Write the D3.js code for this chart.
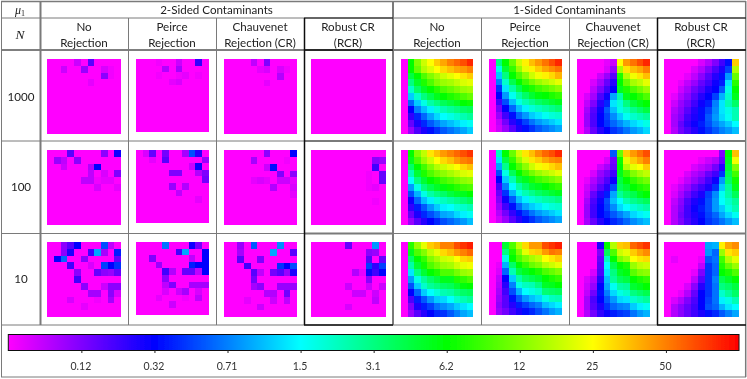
<!DOCTYPE html>
<html><head><meta charset="utf-8">
<script src="https://cdn.jsdelivr.net/npm/d3@7/dist/d3.min.js"></script>
<style>html,body{margin:0;padding:0;background:#fff}svg{display:block}</style>
</head><body><svg id="c" width="747" height="379"></svg>
<script>
// Categories and labels
const sampleSizes = ["1000","100","10"];
const methodLines = [["No","Rejection"],["Peirce","Rejection"],["Chauvenet","Rejection (CR)"],["Robust CR","(RCR)"]];
const groupTitles = ["2-Sided Contaminants","1-Sided Contaminants"];
const tickPercent = [10,20,30,40,50,60,70,80,90];
const tickLabels = ["0.12","0.32","0.71","1.5","3.1","6.2","12","25","50"];
// Cell values as percentage along the colour bar, rows top to bottom.
const two_none_1000=[[0,0,0,0,4,0,13,0,0,0,0],[0,0,4,0,0,8,0,0,3,1,0],[0,0,0,0,0,0,0,0,9,1,0],[0,0,0,0,0,0,2,0,0,0,0],[0,0,0,0,0,0,0,0,0,0,0],[0,0,0,0,0,0,0,0,0,0,0],[0,0,0,0,0,0,0,0,0,0,0],[0,0,0,0,0,0,0,0,0,0,0],[0,0,0,0,0,0,0,0,0,0,0],[0,0,0,0,0,0,0,0,0,0,0],[0,0,0,0,0,0,0,0,0,0,0]];
const two_peirce_1000=[[0,0,0,1,0,0,4,0,0,16,0],[0,0,0,0,6,0,7,0,0,0,0],[0,0,0,1,0,0,1,2,0,1,0],[0,0,0,0,0,2,3,0,0,0,0],[0,0,0,0,0,0,0,0,0,0,0],[0,0,0,0,0,0,0,0,0,0,0],[0,0,0,0,0,0,0,0,0,0,0],[0,0,0,0,0,0,0,0,0,0,0],[0,0,0,0,0,0,0,0,0,0,0],[0,0,0,0,0,0,0,0,0,0,0],[0,0,0,0,0,0,0,0,0,0,0]];
const two_chauv_1000=[[0,0,0,0,5,0,10,0,0,0,0],[0,0,0,0,0,2,3,0,3,1,0],[0,0,0,0,0,0,0,0,6,0,0],[0,0,0,0,0,0,2,0,0,0,0],[0,0,0,0,0,0,0,0,0,0,0],[0,0,0,0,0,0,0,0,0,0,0],[0,0,0,0,0,0,0,0,0,0,0],[0,0,0,0,0,0,0,0,0,0,0],[0,0,0,0,0,0,0,0,0,0,0],[0,0,0,0,0,0,0,0,0,0,0],[0,0,0,0,0,0,0,0,0,0,0]];
const two_rcr_1000=[[0,0,0,0,0,0,0,0,0,0,0],[0,0,0,0,0,0,0,0,0,0,0],[0,0,0,0,0,0,0,0,0,0,0],[0,0,0,0,0,0,0,0,0,0,0],[0,0,0,0,0,0,0,0,0,0,0],[0,0,0,0,0,0,0,0,0,0,0],[0,0,0,0,0,0,0,0,0,0,0],[0,0,0,0,0,0,0,0,0,0,0],[0,0,0,0,0,0,0,0,0,0,0],[0,0,0,0,0,0,0,0,0,0,0],[0,0,0,0,0,0,0,0,0,0,0]];
const one_none_1000=[[0,60,70,76,80,84,87,90,92,94,97],[0,60,68,74,77,80,83,85,87,88,90],[0,55,60,66,70,73,76,78,80,82,84],[0,50,57,62,66,70,72,73,75,77,78],[0,44,52,57,60,63,66,68,70,72,73],[0,36,44,50,54,58,60,62,64,66,68],[0,28,36,42,47,50,53,55,57,60,61],[0,20,30,35,39,43,46,48,50,52,53],[0,16,23,28,33,37,40,42,44,46,48],[0,12,18,23,27,30,33,35,37,39,41],[0,8,14,18,21,24,27,29,31,33,36]];
const one_peirce_1000=[[0,50,60,68,76,81,85,88,91,94,97],[0,42,56,64,72,78,81,84,87,89,91],[0,36,50,60,66,71,76,79,81,83,86],[0,30,44,54,60,65,69,72,74,76,78],[0,24,38,47,54,59,62,65,67,69,71],[0,20,32,41,47,52,56,59,60,62,64],[0,15,26,35,42,46,49,52,54,56,58],[0,11,20,28,35,39,43,45,47,49,51],[0,8,15,21,28,32,36,38,41,43,44],[0,5,11,17,21,25,29,32,34,36,38],[0,4,8,13,18,21,24,27,29,31,33]];
const one_chauv_1000=[[0,0,0,0,2,4,80,88,91,94,97],[0,0,0,0,3,8,73,82,85,87,90],[0,0,0,4,8,13,62,74,79,82,85],[0,0,3,7,12,17,60,68,73,75,78],[0,0,5,10,15,20,58,62,66,69,72],[0,3,7,14,19,33,47,58,60,63,66],[0,5,10,17,23,38,43,50,55,58,60],[0,7,13,19,27,35,42,45,49,52,55],[0,8,14,20,25,31,36,41,44,46,48],[0,8,14,20,24,28,31,34,37,39,42],[0,6,12,17,20,24,26,29,32,34,37]];
const one_rcr_1000=[[0,0,0,0,0,3,6,10,15,21,84],[0,0,0,0,3,6,10,14,18,25,74],[0,0,0,2,5,9,13,17,21,32,68],[0,0,2,5,8,12,15,19,22,38,63],[0,0,4,7,11,14,18,20,27,42,60],[0,2,6,9,13,17,20,25,34,44,58],[0,4,8,11,15,19,22,30,38,46,52],[0,6,9,13,17,21,25,31,38,42,46],[0,7,10,15,18,21,27,32,37,41,46],[0,7,12,16,19,22,26,30,33,36,40],[0,6,11,14,17,21,24,27,30,32,35]];
const two_none_100=[[0,0,0,13,0,0,0,0,9,0,19],[0,8,5,0,9,0,0,0,0,0,0],[0,0,4,0,0,0,6,20,0,0,0],[0,0,0,0,0,0,5,0,3,0,10],[0,0,0,0,0,5,5,1,2,2,0],[0,0,0,0,0,0,0,3,0,0,2],[0,0,0,0,0,0,0,0,0,0,0],[0,0,0,0,0,0,0,0,0,0,0],[0,0,0,0,0,0,0,0,0,0,0],[0,0,0,0,0,0,0,0,0,0,0],[0,0,0,0,0,0,0,0,0,0,0]];
const two_peirce_100=[[0,3,12,0,11,0,0,7,26,17,0],[0,0,2,0,13,0,0,0,0,0,8],[0,0,0,0,0,0,0,0,4,19,0],[0,0,0,0,0,10,10,0,0,6,10],[0,0,0,0,0,0,0,0,0,0,11],[0,0,0,0,0,8,0,6,0,0,0],[0,0,0,0,0,0,5,0,0,0,0],[0,0,0,0,0,0,0,0,0,2,0],[0,0,0,0,0,0,0,0,0,0,0],[0,0,0,0,0,0,0,0,0,0,0],[0,0,0,0,0,0,0,0,0,0,0]];
const two_chauv_100=[[0,0,0,0,0,0,9,0,0,0,20],[0,0,0,0,7,0,0,0,0,1,0],[0,0,0,0,0,0,4,21,0,0,0],[0,0,0,0,0,0,0,0,10,0,9],[0,0,0,0,2,3,2,0,4,4,2],[0,0,0,0,0,0,0,6,0,0,3],[0,0,0,0,0,0,0,0,0,0,2],[0,0,0,0,0,0,0,0,0,0,0],[0,0,0,0,0,0,0,0,0,0,0],[0,0,0,0,0,0,0,0,0,0,0],[0,0,0,0,0,0,0,0,0,0,0]];
const two_rcr_100=[[0,0,0,0,0,0,0,0,0,0,0],[0,0,0,0,0,0,0,0,0,9,8],[0,0,0,0,0,0,0,0,0,15,0],[0,0,0,0,0,0,0,0,1,0,12],[0,0,0,0,0,0,0,0,1,0,12],[0,0,0,0,0,0,0,0,1,2,0],[0,0,0,0,0,0,0,0,0,0,0],[0,0,0,0,0,0,0,0,0,1,0],[0,0,0,0,0,0,0,0,0,0,0],[0,0,0,0,0,0,0,0,0,0,0],[0,0,0,0,0,0,0,0,0,0,0]];
const one_none_100=[[0,60,70,75,82,85,88,90,92,94,96],[0,58,66,72,76,80,83,85,88,90,91],[0,52,60,65,70,74,76,78,80,83,85],[0,46,56,62,66,69,71,73,75,77,78],[0,40,50,56,60,62,65,67,69,71,72],[0,32,42,50,54,57,59,61,63,65,66],[0,26,34,42,47,50,52,55,57,58,60],[0,19,28,35,39,43,45,47,49,51,53],[0,16,22,27,32,36,39,40,43,44,46],[0,12,18,23,26,29,33,34,37,39,41],[0,8,13,17,20,23,26,28,30,32,35]];
const one_peirce_100=[[0,45,60,68,76,82,85,89,92,94,97],[0,38,55,64,72,77,82,84,87,89,90],[0,33,49,60,66,71,76,79,81,83,85],[0,26,42,53,60,65,69,72,74,76,78],[0,20,36,46,55,58,62,65,67,69,71],[0,15,30,40,47,52,56,58,60,62,64],[0,12,24,34,42,46,49,52,54,56,58],[0,10,19,27,35,39,43,45,47,48,50],[0,8,15,21,28,33,36,38,41,43,44],[0,6,11,16,21,25,29,32,34,36,38],[0,4,8,13,17,21,24,27,29,31,33]];
const one_chauv_100=[[0,0,0,0,0,27,68,84,88,91,94],[0,0,0,0,3,11,61,78,84,87,90],[0,0,0,4,7,12,60,74,78,80,84],[0,0,3,8,11,15,58,65,70,73,75],[0,2,6,10,14,19,55,60,64,67,69],[0,4,8,13,17,26,53,56,60,62,64],[0,5,12,17,22,33,48,52,54,58,60],[0,7,14,19,26,35,40,46,49,51,53],[0,8,15,20,25,31,37,40,43,45,47],[0,8,15,20,23,27,30,33,37,39,41],[0,7,12,17,20,23,25,28,31,33,35]];
const one_rcr_100=[[0,0,0,0,0,0,0,0,10,60,85],[0,0,0,0,0,2,4,6,12,58,79],[0,0,0,0,3,5,7,11,17,56,70],[0,0,0,3,6,8,12,15,24,54,65],[0,0,2,5,8,11,15,19,32,52,61],[0,2,5,8,12,15,18,24,36,48,58],[0,3,7,11,15,18,25,31,41,47,53],[0,5,9,14,18,21,26,32,40,44,48],[0,6,10,15,19,22,26,32,36,42,46],[0,6,11,15,18,21,25,28,33,37,41],[0,6,10,14,17,20,24,26,29,32,35]];
const two_none_10=[[0,0,9,13,20,0,0,0,26,5,0],[0,0,9,18,0,0,15,33,7,0,22],[0,20,28,0,0,9,0,0,0,0,12],[0,0,0,15,0,0,3,0,25,20,24],[0,0,0,0,9,0,0,12,9,8,12],[0,0,0,0,15,0,0,0,0,0,0],[0,0,0,0,0,9,0,0,4,9,9],[0,0,0,0,0,0,7,7,0,9,3],[0,0,0,3,0,0,0,1,0,7,0],[0,0,0,0,0,2,0,0,0,0,0],[0,0,0,0,0,0,0,0,0,0,0]];
const two_peirce_10=[[0,0,0,0,29,0,0,0,19,11,0],[0,0,0,0,0,0,15,33,0,0,20],[0,0,10,0,0,0,0,0,5,0,20],[0,0,0,8,0,0,0,0,22,20,20],[0,0,0,0,15,6,0,12,12,5,20],[0,0,0,0,9,0,0,0,0,0,0],[0,0,0,0,5,10,0,0,7,7,7],[0,0,0,0,3,0,4,7,0,3,0],[0,0,0,2,0,0,0,1,0,5,0],[0,0,0,0,0,4,0,0,0,0,0],[0,0,0,0,0,0,0,0,0,0,0]];
const two_chauv_10=[[0,0,8,0,27,0,0,0,31,0,0],[0,0,7,0,0,0,0,33,0,0,13],[0,0,13,0,0,10,0,0,0,0,0],[0,0,0,15,0,0,0,0,24,20,26],[0,0,0,0,13,5,0,11,13,8,18],[0,0,0,0,11,0,0,0,0,0,0],[0,0,0,0,7,9,0,0,8,8,8],[0,0,0,0,0,0,6,6,0,11,0],[0,0,0,2,0,0,0,4,0,5,0],[0,0,0,0,0,4,0,0,0,0,0],[0,0,0,0,0,0,0,0,0,0,0]];
const two_rcr_10=[[0,0,0,0,0,12,0,0,0,32,0],[0,0,0,0,0,0,0,0,9,8,0],[0,0,0,0,0,0,0,0,13,0,12],[0,0,0,0,0,0,0,0,25,16,25],[0,0,0,0,0,0,6,2,19,15,20],[0,0,0,0,0,0,0,0,9,0,0],[0,0,0,0,0,4,0,0,4,0,4],[0,0,0,0,0,0,4,4,0,4,0],[0,0,0,0,0,0,0,0,0,5,0],[0,0,0,0,0,3,0,0,0,0,0],[0,0,0,0,0,0,0,0,0,0,0]];
const one_none_10=[[0,63,72,78,84,86,90,90,94,96,98],[0,58,66,70,75,78,83,85,88,90,92],[0,52,60,64,70,73,76,77,80,83,84],[0,47,56,61,66,69,72,73,76,78,79],[0,38,50,56,60,62,66,66,69,72,73],[0,32,42,48,52,55,58,58,62,64,66],[0,26,36,44,48,50,52,53,56,59,60],[0,20,28,36,40,43,46,47,50,52,53],[0,14,22,27,32,36,37,40,44,46,48],[0,10,18,22,25,29,31,33,36,38,40],[0,8,13,17,20,23,24,27,30,33,35]];
const one_peirce_10=[[0,0,56,66,75,83,88,88,94,96,98],[0,0,50,62,70,78,83,84,88,91,90],[0,0,42,60,66,70,73,75,80,82,84],[0,2,34,52,60,64,68,70,74,76,78],[0,3,28,46,55,58,60,62,66,68,70],[0,5,20,36,47,52,54,56,60,62,64],[0,6,17,30,42,45,46,50,57,58,60],[0,7,15,26,34,40,42,44,51,52,53],[0,8,13,21,27,32,35,37,42,45,46],[0,9,13,17,22,25,28,30,35,37,39],[0,8,11,15,18,21,23,26,29,32,34]];
const one_chauv_10=[[0,0,0,18,60,74,84,85,92,94,96],[0,0,0,10,53,66,76,78,84,87,89],[0,0,0,12,45,60,70,73,80,82,83],[0,0,0,13,40,54,60,62,72,75,76],[0,0,3,14,38,50,57,59,67,70,71],[0,3,6,17,35,48,53,55,60,62,64],[0,4,8,20,33,41,47,48,56,58,60],[0,5,11,21,30,37,42,44,50,52,54],[0,7,14,20,27,32,37,38,44,46,48],[0,7,13,18,24,28,30,31,36,39,41],[0,6,11,16,19,22,24,25,29,32,34]];
const one_rcr_10=[[0,0,0,0,0,0,33,34,81,87,89],[0,0,0,0,0,0,32,28,72,82,84],[0,2,0,0,0,2,27,29,65,74,78],[0,0,0,0,0,5,24,28,62,68,72],[0,0,0,0,2,10,24,28,60,62,66],[0,0,0,0,5,13,24,30,54,57,60],[0,0,0,3,9,17,24,29,50,52,55],[0,0,2,6,12,20,24,29,44,48,52],[0,3,6,10,14,20,25,29,39,42,46],[0,6,9,12,15,20,26,28,34,38,40],[0,6,9,12,15,18,21,23,27,30,33]];
const panels = [
 [two_none_1000,two_peirce_1000,two_chauv_1000,two_rcr_1000,one_none_1000,one_peirce_1000,one_chauv_1000,one_rcr_1000],
 [two_none_100,two_peirce_100,two_chauv_100,two_rcr_100,one_none_100,one_peirce_100,one_chauv_100,one_rcr_100],
 [two_none_10,two_peirce_10,two_chauv_10,two_rcr_10,one_none_10,one_peirce_10,one_chauv_10,one_rcr_10]];

// Layout (not data)
const panelLeft=[47.3,136,224,311,401,489,577,664];
const panelWidth=[73.7,72.6,73,75,72.4,73,73,75];
const panelTop=[59,150,242];
const panelHeight=[75,72.7,75.2,75.2,74.5,72.8,74.8,75.2];
const colCenter=[84,172,260,348,437,525,613,701];
const rowCenter=[96.5,187,279];
const GREY="#7a7a7a", FONT="Lato, 'Noto Sans', sans-serif";

const root=d3.select("#c");
root.append("defs").append("filter").attr("id","soft")
  .attr("x",0).attr("y",0).attr("width",1).attr("height",1).attr("filterUnits","objectBoundingBox")
  .append("feGaussianBlur").attr("stdDeviation",0.35);
const svg=root.append("g").attr("filter","url(#soft)");
svg.append("rect").attr("width",747).attr("height",379).attr("fill","#fff");
const colour=d3.scaleLinear().domain([0,20,40,60,80,100])
  .range(["#ff00ff","#0000ff","#00ffff","#00ff00","#ffff00","#ff0000"]).interpolate(d3.interpolateRgb);

// heatmaps
const cellKeys=d3.range(11);
panels.forEach((row,ri)=>row.forEach((grid,ci)=>{
  const x=d3.scaleBand().domain(cellKeys).range([panelLeft[ci],panelLeft[ci]+panelWidth[ci]]);
  const y=d3.scaleBand().domain(cellKeys).range([panelTop[ri],panelTop[ri]+panelHeight[ci]]);
  const g=svg.append("g").attr("class","panel").attr("shape-rendering","crispEdges");
  grid.forEach((vals,r)=>{
    g.selectAll(null).data(vals).join("rect")
     .attr("x",(d,c)=>x(c)).attr("y",y(r))
     .attr("width",x.bandwidth()).attr("height",y.bandwidth())
     .attr("fill",d=>colour(d));
  });
}));

// table rules
const rules=[
 [1,1.5,746,1.5,GREY,1.5],[1,18,746,18,GREY,1],[1,50,746,50,"#555",1.5],
 [1,141,746,141,GREY,1],[1,233.5,746,233.5,GREY,1],[1,325,746,325,GREY,1],
 [1,377,746,377,GREY,1],
 [1.5,1,1.5,377,GREY,1],[40.5,1,40.5,325,GREY,2],[128.5,18,128.5,325,GREY,1],[216.5,18,216.5,325,GREY,1],
 [393,1,393,325,GREY,2],[481.5,18,481.5,325,GREY,1],[569.5,18,569.5,325,GREY,1],[745.7,1,745.7,377,GREY,1.5],
 [304,141,393,141,GREY,2],[304,233.5,393,233.5,GREY,2],[657,141,746,141,GREY,2],[657,233.5,746,233.5,GREY,2],
 [304.5,18,304.5,325,"#111",1.5],[657.5,18,657.5,325,"#111",1.5],
 [304,18,393,18,"#111",1.2],[304,50,393,50,"#111",1.5],[304,325,393,325,"#111",1.5],
 [657,18,746,18,"#111",1.2],[657,50,746,50,"#111",1.5],[657,325,746,325,"#111",1.5]
];
svg.append("g").selectAll("line").data(rules).join("line")
 .attr("x1",d=>d[0]).attr("y1",d=>d[1]).attr("x2",d=>d[2]).attr("y2",d=>d[3])
 .attr("stroke",d=>d[4]).attr("stroke-width",d=>d[5]);

// text
const text=(x,y,s,size=11.6)=>svg.append("text").attr("x",x).attr("y",y).attr("text-anchor","middle")
  .attr("font-family",FONT).attr("font-size",size).attr("fill","#222").text(s);
text(216.5,13.5,groupTitles[0]);
text(569.5,13.5,groupTitles[1]);
colCenter.forEach((cx,i)=>{const m=methodLines[i%4];text(cx,31,m[0]);text(cx,46.5,m[1]);});
sampleSizes.forEach((s,i)=>text(21,rowCenter[i]+4,s,11.6));
const mu=svg.append("text").attr("x",20).attr("y",14).attr("text-anchor","middle")
  .attr("font-family","'Liberation Serif',serif").attr("font-size",12).attr("fill","#222");
mu.append("tspan").attr("font-style","italic").text("\u03bc");
mu.append("tspan").attr("font-size",8).attr("dy",2).text("1");
svg.append("text").attr("x",20).attr("y",39).attr("text-anchor","middle")
  .attr("font-family","'Liberation Serif',serif").attr("font-style","italic").attr("font-size",13.5).attr("fill","#222").text("N");

// colour bar
const barX=d3.scaleLinear().domain([0,100]).range([8.3,739]);
const grad=root.select("defs").append("linearGradient").attr("id","bar");
grad.selectAll("stop").data(colour.domain()).join("stop")
 .attr("offset",d=>d+"%").attr("stop-color",d=>colour(d));
svg.append("rect").attr("x",barX(0)).attr("y",334.5).attr("width",barX(100)-barX(0)).attr("height",16)
 .attr("fill","url(#bar)").attr("stroke","#111").attr("stroke-width",1);
const axis=d3.axisBottom(barX).tickValues(tickPercent).tickFormat((d,i)=>tickLabels[i]).tickSize(2.5).tickSizeOuter(0);
const ax=svg.append("g").attr("transform","translate(0,350.5)").call(axis);
ax.select(".domain").remove();
ax.selectAll("line").attr("stroke","#222");
ax.selectAll("text").attr("font-family",FONT).attr("font-size",10.5).attr("fill","#333").attr("dy",0).attr("y",19).attr("dx",-1);
</script></body></html>
